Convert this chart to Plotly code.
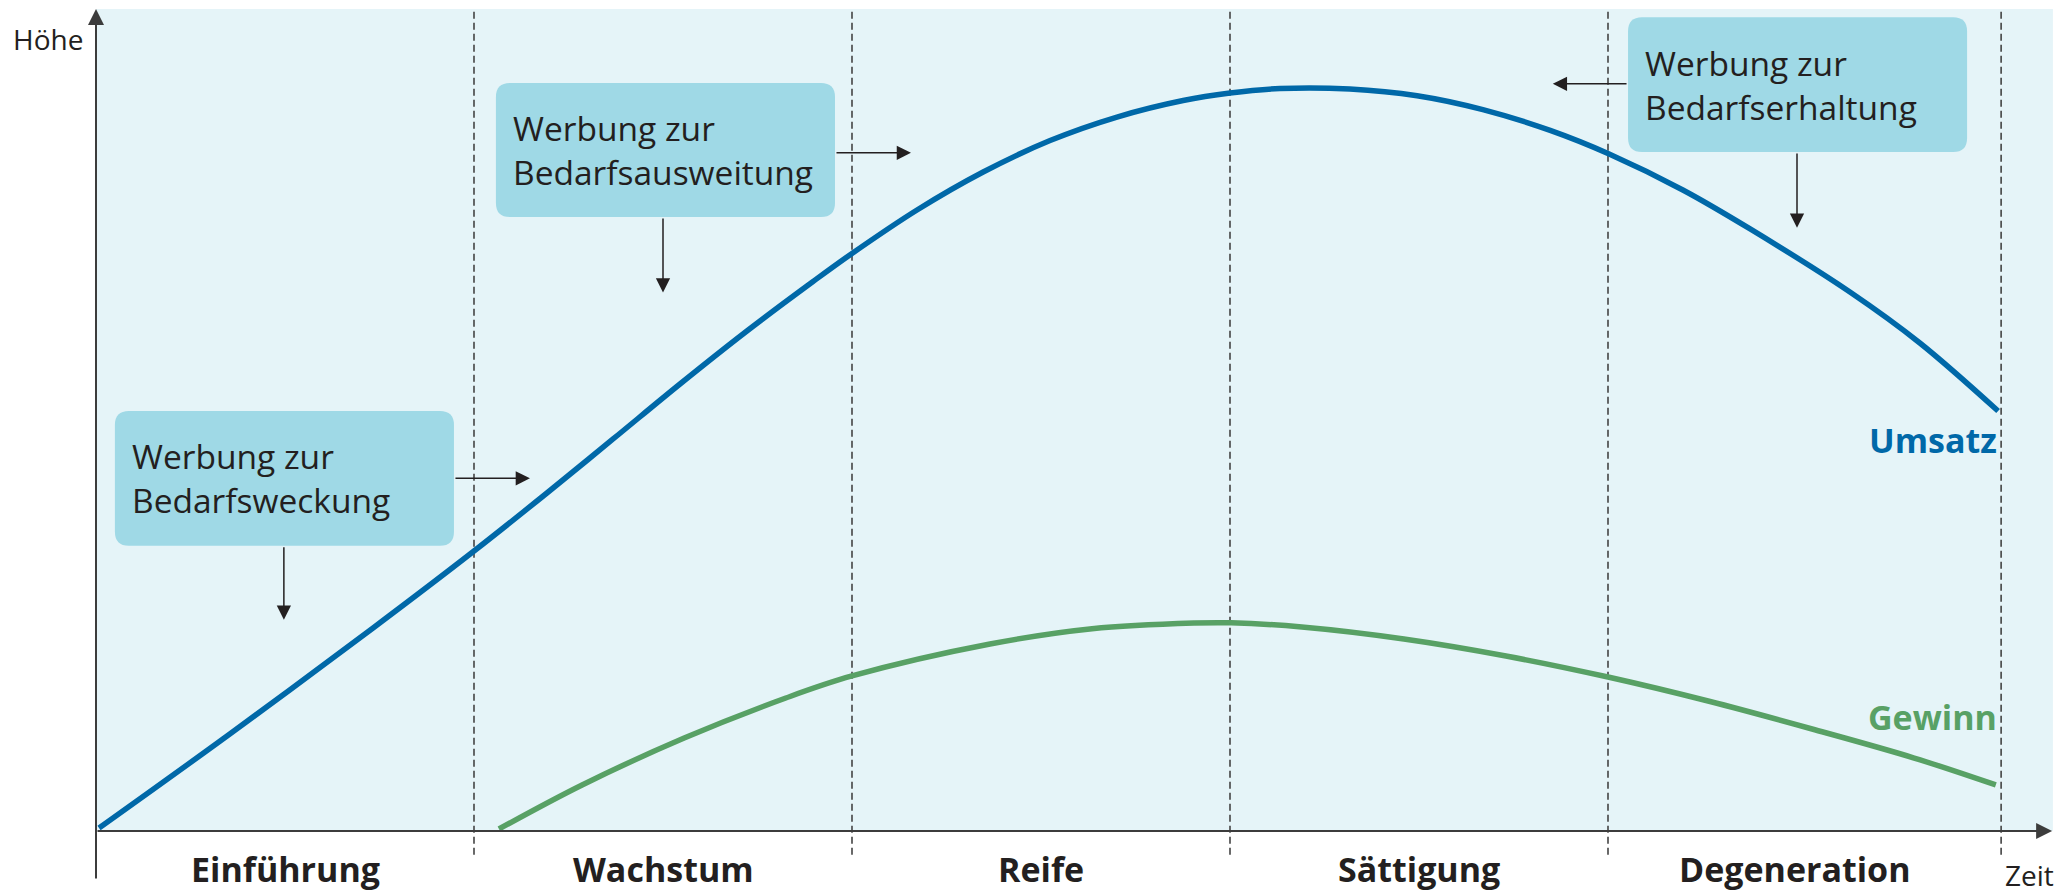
import plotly.graph_objects as go

# ---------------- data ----------------
phases = ["Einführung", "Wachstum", "Reife", "Sättigung", "Degeneration"]
phase_bounds = [0, 1, 2, 3, 4, 5.04]

umsatz_x = [0.008, 0.354, 0.733, 1.0, 1.193, 1.368, 1.545, 1.722, 1.897, 2.0, 2.172, 2.347,
            2.524, 2.701, 2.876, 3.0, 3.132, 3.317, 3.495, 3.669, 3.847, 4.003, 4.198,
            4.376, 4.640, 4.825, 5.032]
umsatz_y = [0.36, 11.80, 24.70, 34.06, 41.12, 47.69, 54.38, 60.83, 66.85, 70.26, 75.55, 80.17,
            84.00, 86.86, 88.87, 89.78, 90.33, 90.27, 89.45, 87.76, 85.23, 82.36, 77.98,
            73.24, 65.57, 59.37, 51.09]

gewinn_x = [1.066, 1.286, 1.556, 1.825, 2.0, 2.365, 2.635, 2.905, 3.003, 3.190, 3.460,
            3.730, 4.0, 4.270, 4.540, 4.810, 5.026]
gewinn_y = [0.24, 5.60, 11.31, 16.18, 18.86, 22.75, 24.61, 25.30, 25.33, 24.82, 23.36,
            21.29, 18.73, 15.75, 12.41, 8.88, 5.60]

box_texts = ["Werbung zur<br>Bedarfsweckung",
             "Werbung zur<br>Bedarfsausweitung",
             "Werbung zur<br>Bedarfserhaltung"]

# ---------------- styling / layout helpers ----------------
W, H = 2071, 895
X0PX, Y0PX = 96, 831          # pixel position of origin
XPU, YPU = 378.0, 8.22        # pixels per data unit
xr = [-X0PX / XPU, (W - X0PX) / XPU]
yr = [-(H - Y0PX) / YPU, Y0PX / YPU]

BLUE = "#0068a8"
GREEN = "#58a165"
BG = "#e5f4f8"
BOX = "#9fd9e6"
TXT = "#231f20"
AX = "#3c3c3c"
FONT = "Open Sans"

fig = go.Figure()

fig.add_trace(go.Scatter(x=umsatz_x, y=umsatz_y, mode="lines", name="Umsatz",
                         line=dict(color=BLUE, width=5.5, shape="spline", smoothing=1.0),
                         hoverinfo="skip"))
fig.add_trace(go.Scatter(x=gewinn_x, y=gewinn_y, mode="lines", name="Gewinn",
                         line=dict(color=GREEN, width=5.5, shape="spline", smoothing=1.0),
                         hoverinfo="skip"))

shapes = []
# background panel
shapes.append(dict(type="rect", xref="x", yref="y", x0=0, x1=5.177, y0=0, y1=100,
                   fillcolor=BG, line=dict(width=0), layer="below"))
# dashed phase boundaries
for b in phase_bounds[1:]:
    shapes.append(dict(type="line", xref="x", yref="y", x0=b, x1=b, y0=-2.9, y1=100,
                       line=dict(color="#444444", width=1.6, dash="7px,4px"), layer="below"))


def rounded_box(x0, x1, y0, y1, rpx=14):
    rx, ry = rpx / XPU, rpx / YPU
    p = (f"M{x0+rx},{y1} L{x1-rx},{y1} Q{x1},{y1} {x1},{y1-ry} "
         f"L{x1},{y0+ry} Q{x1},{y0} {x1-rx},{y0} "
         f"L{x0+rx},{y0} Q{x0},{y0} {x0},{y0+ry} "
         f"L{x0},{y1-ry} Q{x0},{y1} {x0+rx},{y1} Z")
    return dict(type="path", xref="x", yref="y", path=p, fillcolor=BOX,
                line=dict(width=0), layer="below")


boxes = [(0.050, 0.947, 34.7, 51.1), (1.058, 1.955, 74.7, 91.0), (4.053, 4.950, 82.6, 99.0)]
for bx in boxes:
    shapes.append(rounded_box(*bx))

annotations = []
for (x0, x1, y0, y1), t in zip(boxes, box_texts):
    annotations.append(dict(x=x0 + 15 / XPU, y=(y0 + y1) / 2, xref="x", yref="y", text=t,
                            showarrow=False, xanchor="left", yanchor="middle", align="left",
                            font=dict(family=FONT, size=33.5, color=TXT)))


def arrow(tail, head, color=TXT, width=1.5, size=1.9):
    return dict(x=head[0], y=head[1], ax=tail[0], ay=tail[1], xref="x", yref="y",
                axref="x", ayref="y", text="", showarrow=True, arrowhead=2,
                arrowsize=size, arrowwidth=width, arrowcolor=color, standoff=0, startstandoff=0)


# arrows from boxes
annotations += [
    arrow((0.947, 42.9), (1.148, 42.9)),
    arrow((0.497, 34.7), (0.497, 25.7)),
    arrow((1.955, 82.5), (2.156, 82.5)),
    arrow((1.500, 74.7), (1.500, 65.5)),
    arrow((4.053, 90.9), (3.854, 90.9)),
    arrow((4.500, 82.6), (4.500, 73.4)),
]
# axes with arrow heads
annotations.append(arrow((0, -5.96), (0, 100.0), color=AX, width=2, size=1.6))
annotations.append(arrow((0, 0), (5.175, 0), color=AX, width=2, size=1.6))

# phase labels (anchored to the bottom edge so they stay fully visible)
for i, name in enumerate(phases):
    cx = (phase_bounds[i] + phase_bounds[i + 1]) / 2
    if i == 4:
        cx -= 0.025
    annotations.append(dict(x=cx, y=-7.72, xref="x", yref="y", text=name, showarrow=False,
                            xanchor="center", yanchor="bottom",
                            font=dict(family=FONT, size=34, color=TXT, weight="bold")))

# curve labels
annotations.append(dict(x=5.035, y=47.6, xref="x", yref="y", text="Umsatz", showarrow=False,
                        xanchor="right", yanchor="middle",
                        font=dict(family=FONT, size=34, color=BLUE, weight="bold")))
annotations.append(dict(x=5.035, y=13.9, xref="x", yref="y", text="Gewinn", showarrow=False,
                        xanchor="right", yanchor="middle",
                        font=dict(family=FONT, size=34, color=GREEN, weight="bold")))

# axis titles
annotations.append(dict(x=-0.127, y=96.3, xref="x", yref="y", text="Höhe", showarrow=False,
                        xanchor="center", yanchor="middle",
                        font=dict(family=FONT, size=28, color=TXT)))
annotations.append(dict(x=5.114, y=-5.3, xref="x", yref="y", text="Zeit", showarrow=False,
                        xanchor="center", yanchor="middle",
                        font=dict(family=FONT, size=28, color=TXT)))

fig.update_layout(
    width=W, height=H, autosize=False,
    margin=dict(l=0, r=0, t=0, b=0, pad=0),
    paper_bgcolor="white", plot_bgcolor="white",
    showlegend=False,
    xaxis=dict(range=xr, visible=False, fixedrange=True),
    yaxis=dict(range=yr, visible=False, fixedrange=True),
    shapes=shapes, annotations=annotations,
)

fig.write_html("out.html", config={"displayModeBar": False},
               post_script="document.body.style.margin='0';document.body.style.overflow='hidden';")
